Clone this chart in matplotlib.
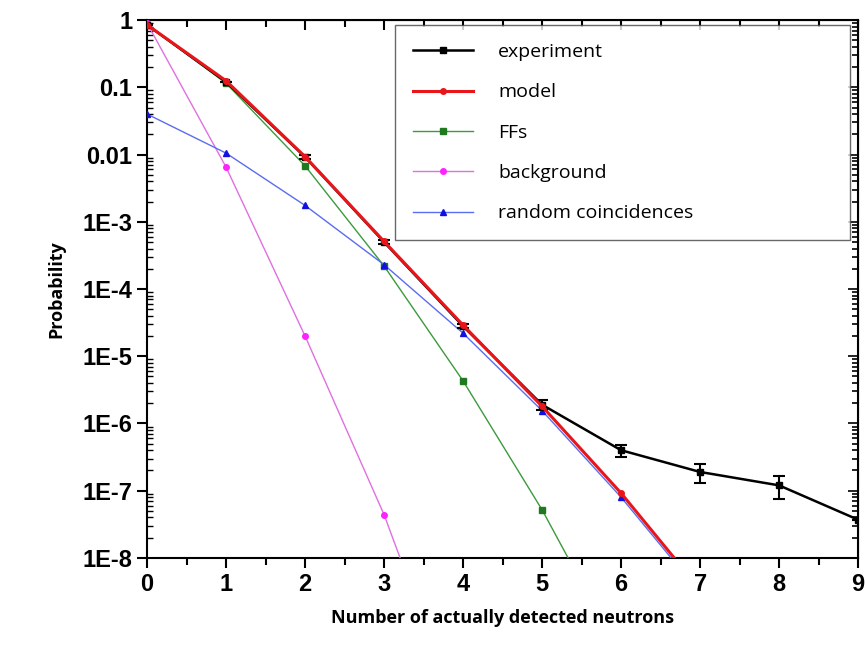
import numpy as np
import matplotlib
matplotlib.use("Agg")
import matplotlib.pyplot as plt
from matplotlib.lines import Line2D
from matplotlib.ticker import FixedLocator, FixedFormatter, LogLocator, NullFormatter, MultipleLocator

plt.rcParams['font.family'] = ['Liberation Sans', 'DejaVu Sans']

# neutron multiplicity
n = [0, 1, 2, 3, 4, 5, 6, 7, 8, 9]

exp_val = [0.85, 0.12, 0.0092, 5.0e-4, 2.8e-5, 1.9e-6, 4.0e-7, 1.9e-7, 1.2e-7, 3.7e-8]
exp_lo = [0.0, 0.0, 0.0005, 0.3e-4, 0.2e-5, 0.3e-6, 0.8e-7, 0.6e-7, 0.45e-7, 0.0]
exp_hi = [0.0, 0.0, 0.0005, 0.3e-4, 0.2e-5, 0.3e-6, 0.8e-7, 0.6e-7, 0.45e-7, 0.0]

n_mod = [0, 1, 2, 3, 4, 5, 6, 7]
model = [0.85, 0.125, 0.0093, 5.1e-4, 2.9e-5, 1.8e-6, 9.2e-8, 3.4e-9]

n_ffs = [0, 1, 2, 3, 4, 5, 6]
ffs = [0.85, 0.115, 0.0068, 2.2e-4, 4.3e-6, 5.2e-8, 3.5e-10]

n_bg = [0, 1, 2, 3, 4]
background = [0.9, 0.0065, 2.0e-5, 4.4e-8, 3.0e-11]

n_rc = [0, 1, 2, 3, 4, 5, 6, 7]
random_coinc = [0.04, 0.0105, 1.75e-3, 2.3e-4, 2.2e-5, 1.55e-6, 8.0e-8, 3.0e-9]

ytick_vals = [1, 0.1, 0.01, 1e-3, 1e-4, 1e-5, 1e-6, 1e-7, 1e-8]
ytick_labels = ["1", "0.1", "0.01", "1E-3", "1E-4", "1E-5", "1E-6", "1E-7", "1E-8"]

fig = plt.figure(figsize=(8.65, 6.48), dpi=100)
ax = fig.add_axes([0.170, 0.139, 0.822, 0.830])

ax.errorbar(n, exp_val, yerr=[exp_lo, exp_hi], color="k", lw=1.8, marker="s", ms=4,
            capsize=4, elinewidth=1.5, capthick=1.5, zorder=5)
h_mod, = ax.plot(n_mod, model, color="#e8161b", lw=2.2, marker="o", ms=4, label="model", zorder=6)
h_ffs, = ax.plot(n_ffs, ffs, color="#3c9a3c", lw=1, marker="s", ms=4, mfc="#1f7a1f", mec="#1f7a1f",
                 label="FFs", zorder=3)
h_bg, = ax.plot(n_bg, background, color="#e070e0", lw=1, marker="o", ms=4, mfc="#ff22ff",
                mec="#ff22ff", label="background", zorder=3)
h_rc, = ax.plot(n_rc, random_coinc, color="#5a6cf0", lw=1, marker="^", ms=5, mfc="#1010e0",
                mec="#1010e0", label="random coincidences", zorder=3)
h_exp = Line2D([], [], color="k", lw=1.8, marker="s", ms=4)

ax.set_yscale("log")
ax.set_xlim(0, 9)
ax.set_ylim(1e-8, 1)

ax.yaxis.set_major_locator(FixedLocator(ytick_vals))
ax.yaxis.set_major_formatter(FixedFormatter(ytick_labels))
ax.yaxis.set_minor_locator(LogLocator(base=10, subs=np.arange(2, 10), numticks=20))
ax.yaxis.set_minor_formatter(NullFormatter())
ax.xaxis.set_major_locator(MultipleLocator(1))
ax.xaxis.set_minor_locator(MultipleLocator(0.5))

ax.tick_params(axis="both", which="major", labelsize=17, width=1.5, length=7, direction="out")
ax.tick_params(axis="y", which="minor", width=1, length=4, direction="in")
ax.tick_params(axis="x", which="minor", width=1.5, length=5, direction="out")
for lab in ax.get_xticklabels() + ax.get_yticklabels():
    lab.set_fontweight("bold")

for sp in ax.spines.values():
    sp.set_linewidth(1.5)

top = ax.secondary_xaxis("top")
top.xaxis.set_major_locator(MultipleLocator(1))
top.xaxis.set_minor_locator(MultipleLocator(0.5))
top.tick_params(which="both", direction="in", labeltop=False, width=1.5)
top.tick_params(which="major", length=7)
top.tick_params(which="minor", length=5)

right = ax.secondary_yaxis("right")
right.yaxis.set_major_locator(FixedLocator(ytick_vals))
right.yaxis.set_minor_locator(LogLocator(base=10, subs=np.arange(2, 10), numticks=20))
right.tick_params(which="both", direction="in", labelright=False, width=1.2)
right.tick_params(which="major", length=7)
right.tick_params(which="minor", length=4)

ax.set_xlabel("Number of actually detected neutrons", fontsize=13, fontweight="bold",
              family=["Open Sans", "DejaVu Sans"], labelpad=10)
ax.set_ylabel("Probability", fontsize=13, fontweight="bold",
              family=["Open Sans", "DejaVu Sans"], labelpad=12)

leg = ax.legend([h_exp, h_mod, h_ffs, h_bg, h_rc],
                ["experiment", "model", "FFs", "background", "random coincidences"],
                loc="upper left", bbox_to_anchor=(0.349, 0.0, 0.64, 0.99), mode="expand",
                borderaxespad=0.0,
                prop={"family": ["Open Sans", "DejaVu Sans"], "size": 14},
                handlelength=3.1, handletextpad=1.3, labelspacing=1.15,
                borderpad=0.9, fancybox=False, frameon=True)
leg.get_frame().set_edgecolor("#444444")
leg.get_frame().set_linewidth(1.0)

fig.savefig("out.png", dpi=100)
